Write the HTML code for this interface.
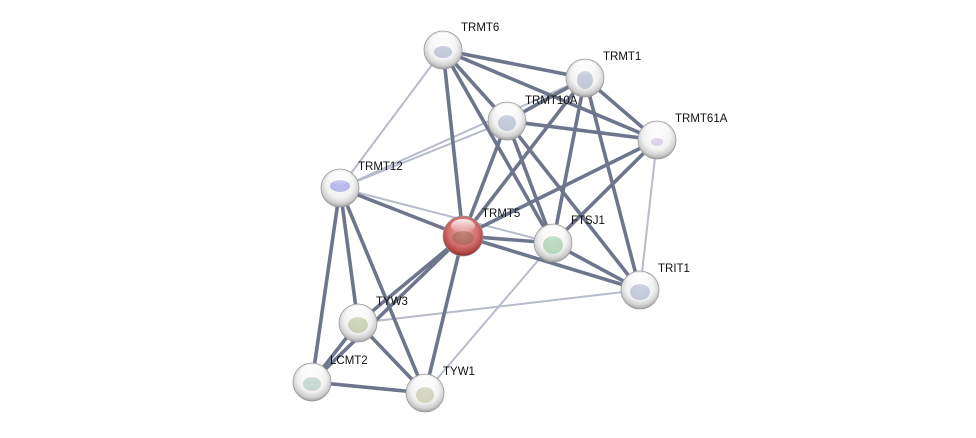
<!DOCTYPE html>
<html><head><meta charset="utf-8"><style>
html,body{margin:0;padding:0;background:#fff;width:976px;height:438px;overflow:hidden}
svg{display:block}
text{font-family:"Liberation Sans",sans-serif;font-size:11.5px;fill:#111}
</style></head><body>
<svg width="976" height="438" viewBox="0 0 976 438" xmlns="http://www.w3.org/2000/svg">
<defs>
<radialGradient id="g" cx="50%" cy="40%" r="60%">
<stop offset="0" stop-color="#ffffff"/><stop offset="0.6" stop-color="#f2f2f2"/><stop offset="0.85" stop-color="#cfcfcf"/><stop offset="1" stop-color="#a0a0a0"/>
</radialGradient>
<radialGradient id="r" cx="50%" cy="40%" r="60%">
<stop offset="0" stop-color="#e8a0a0"/><stop offset="0.6" stop-color="#d57070"/><stop offset="0.85" stop-color="#b54a4a"/><stop offset="1" stop-color="#8a2a2a"/>
</radialGradient>
<linearGradient id="h" x1="0" y1="0" x2="0" y2="1">
<stop offset="0" stop-color="#fff" stop-opacity="0.9"/><stop offset="1" stop-color="#fff" stop-opacity="0"/>
</linearGradient>
</defs>
<g stroke-linecap="round">
<g stroke="#b6bccb" stroke-width="2">
<line x1="443" y1="50" x2="340" y2="188"/>
<line x1="507" y1="121" x2="340" y2="188"/>
<line x1="585" y1="78" x2="340" y2="188"/>
<line x1="340" y1="188" x2="553" y2="243"/>
<line x1="657" y1="140" x2="640" y2="290"/>
<line x1="358" y1="323" x2="640" y2="290"/>
<line x1="553" y1="243" x2="425" y2="393"/>
</g>
<g stroke="#6e768d" stroke-width="3.6">
<line x1="443" y1="50" x2="585" y2="78"/>
<line x1="443" y1="50" x2="507" y2="121"/>
<line x1="443" y1="50" x2="657" y2="140"/>
<line x1="443" y1="50" x2="463" y2="236"/>
<line x1="443" y1="50" x2="553" y2="243"/>
<line x1="585" y1="78" x2="507" y2="121"/>
<line x1="585" y1="78" x2="657" y2="140"/>
<line x1="585" y1="78" x2="463" y2="236"/>
<line x1="585" y1="78" x2="553" y2="243"/>
<line x1="585" y1="78" x2="640" y2="290"/>
<line x1="507" y1="121" x2="657" y2="140"/>
<line x1="507" y1="121" x2="463" y2="236"/>
<line x1="507" y1="121" x2="553" y2="243"/>
<line x1="507" y1="121" x2="640" y2="290"/>
<line x1="657" y1="140" x2="553" y2="243"/>
<line x1="657" y1="140" x2="463" y2="236"/>
<line x1="340" y1="188" x2="463" y2="236"/>
<line x1="340" y1="188" x2="358" y2="323"/>
<line x1="340" y1="188" x2="312" y2="382"/>
<line x1="340" y1="188" x2="425" y2="393"/>
<line x1="463" y1="236" x2="553" y2="243"/>
<line x1="463" y1="236" x2="640" y2="290"/>
<line x1="463" y1="236" x2="358" y2="323"/>
<line x1="463" y1="236" x2="312" y2="382"/>
<line x1="463" y1="236" x2="425" y2="393"/>
<line x1="553" y1="243" x2="640" y2="290"/>
<line x1="358" y1="323" x2="312" y2="382"/>
<line x1="358" y1="323" x2="425" y2="393"/>
<line x1="312" y1="382" x2="425" y2="393"/>
</g>
</g>
<g stroke="#999" stroke-width="0.8">
<circle cx="443" cy="50" r="19" fill="url(#g)"/>
<circle cx="585" cy="78" r="19" fill="url(#g)"/>
<circle cx="507" cy="121" r="19" fill="url(#g)"/>
<circle cx="657" cy="140" r="19" fill="url(#g)"/>
<circle cx="340" cy="188" r="19" fill="url(#g)"/>
<circle cx="463" cy="236" r="20" fill="url(#r)"/>
<circle cx="553" cy="243" r="19" fill="url(#g)"/>
<circle cx="640" cy="290" r="19" fill="url(#g)"/>
<circle cx="358" cy="323" r="19" fill="url(#g)"/>
<circle cx="312" cy="382" r="19" fill="url(#g)"/>
<circle cx="425" cy="393" r="19" fill="url(#g)"/>
</g>
<g opacity="0.4" fill="#7a8ab0">
<ellipse cx="443" cy="52" rx="9" ry="6"/><ellipse cx="585" cy="80" rx="8" ry="9"/><ellipse cx="507" cy="123" rx="9" ry="8"/>
<ellipse cx="657" cy="142" rx="6" ry="4" fill="#b89ad0"/><ellipse cx="340" cy="186" rx="10" ry="6" fill="#5a5ad8"/>
<ellipse cx="463" cy="238" rx="11" ry="7" fill="#80603a"/><ellipse cx="553" cy="245" rx="10" ry="9" fill="#60b070"/>
<ellipse cx="640" cy="292" rx="10" ry="8"/><ellipse cx="358" cy="325" rx="10" ry="8" fill="#90a060"/>
<ellipse cx="312" cy="384" rx="9" ry="7" fill="#80b0a0"/><ellipse cx="425" cy="395" rx="9" ry="8" fill="#a0a070"/>
</g>
<g fill="url(#h)">
<ellipse cx="443" cy="40" rx="12" ry="7"/><ellipse cx="585" cy="68" rx="12" ry="7"/><ellipse cx="507" cy="111" rx="12" ry="7"/>
<ellipse cx="657" cy="130" rx="12" ry="7"/><ellipse cx="340" cy="178" rx="12" ry="7"/><ellipse cx="463" cy="226" rx="12" ry="7"/>
<ellipse cx="553" cy="233" rx="12" ry="7"/><ellipse cx="640" cy="280" rx="12" ry="7"/><ellipse cx="358" cy="313" rx="12" ry="7"/>
<ellipse cx="312" cy="372" rx="12" ry="7"/><ellipse cx="425" cy="383" rx="12" ry="7"/>
</g>
<text x="461" y="31">TRMT6</text>
<text x="603" y="60">TRMT1</text>
<text x="525" y="104">TRMT10A</text>
<text x="675" y="122">TRMT61A</text>
<text x="358" y="170">TRMT12</text>
<text x="482" y="217">TRMT5</text>
<text x="571" y="224">FTSJ1</text>
<text x="658" y="272">TRIT1</text>
<text x="376" y="305">TYW3</text>
<text x="330" y="364">LCMT2</text>
<text x="443" y="375">TYW1</text>
</svg>
</body></html>
